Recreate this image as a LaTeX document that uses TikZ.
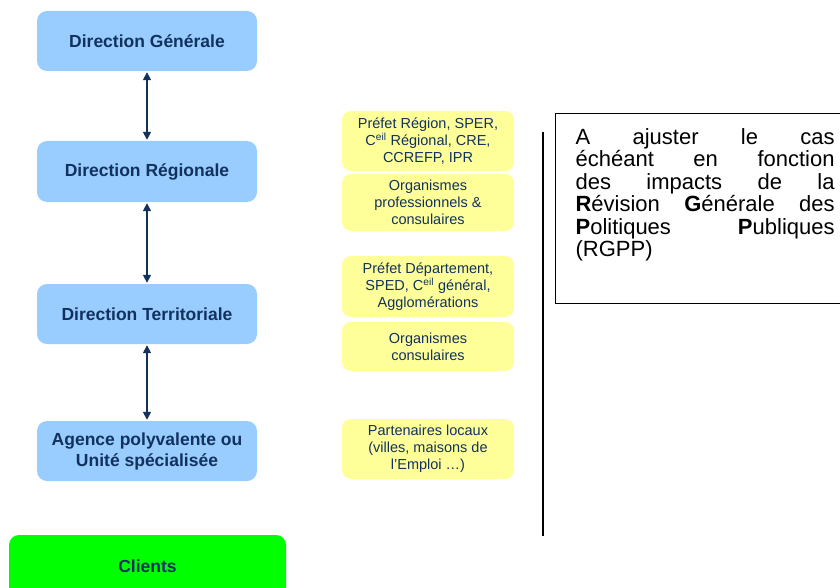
\documentclass[tikz,border=0pt]{standalone}
\usepackage{fontspec}
\setmainfont{Liberation Sans}
\usetikzlibrary{arrows.meta}
\definecolor{boxblue}{HTML}{99CCFF}
\definecolor{boxyellow}{HTML}{FFFF99}
\definecolor{boxgreen}{HTML}{00FF00}
\definecolor{navy}{HTML}{12325E}

\begin{document}
\begin{tikzpicture}[x=1pt,y=-1pt,
        dirbox/.style={fill=boxblue,rounded corners=10pt,minimum width=220pt,minimum height=60pt,
                inner sep=0pt,align=center,text=navy,font=\fontsize{17.5}{21}\selectfont\bfseries},
        partbox/.style={fill=boxyellow,rounded corners=9pt,minimum width=172pt,
                inner sep=0pt,align=center,text=navy,font=\fontsize{14.5}{17}\selectfont},
        link/.style={navy,line width=1.6pt,{Triangle[width=8pt,length=8pt]}-{Triangle[width=8pt,length=8pt]},shorten <=1pt,shorten >=1pt}] % hierarchy and partners
        \useasboundingbox (0,0) rectangle (840,588);
        \node[dirbox] (dg) at (147,41) {Direction Générale};
        \node[dirbox,minimum height=61pt] (dr) at (147,171.5) {Direction Régionale};
        \node[dirbox] (dt) at (147,314) {Direction Territoriale};
        \node[dirbox] (ag) at (147,451) {Agence polyvalente ou\\Unité spécialisée};
        \node[dirbox,fill=boxgreen,minimum width=277pt,minimum height=62pt] (cl) at (147.5,566) {Clients};
        \draw[link] (dg) -- (dr);
        \draw[link] (dr) -- (dt);
        \draw[link] (dt) -- (ag);
        \node[partbox,minimum height=60pt] (p1) at (428,141) {Préfet Région, SPER,\\C\textsuperscript{eil} Régional, CRE,\\CCREFP, IPR};
        \node[partbox,minimum height=57pt] (p2) at (428,202.5) {Organismes\\professionnels \&\\consulaires};
        \node[partbox,minimum height=61pt] (p3) at (428,286.5) {Préfet Département,\\SPED, C\textsuperscript{eil} général,\\Agglomérations};
        \node[partbox,minimum height=49pt] (p4) at (428,346.5) {Organismes\\consulaires};
        \node[partbox,minimum height=60pt] (p5) at (428,449) {Partenaires locaux\\(villes, maisons de\\l’Emploi …)};
        \coordinate (vtop) at (543,132);
        \coordinate (vbot) at (543,536);
        \draw[line width=1.2pt] (vtop) -- (vbot);
        \node[draw,line width=1.2pt,anchor=north west,text width=259pt,inner xsep=20pt,inner ysep=15pt,
                text height=16pt,text depth=144pt,align=justify,font=\fontsize{22}{22.4}\selectfont] (note) at (555,113)
                {A ajuster le cas\linebreak échéant en fonction\linebreak des impacts de la\linebreak
                \textbf{R}évision \textbf{G}énérale des\linebreak \textbf{P}olitiques \textbf{P}ubliques\linebreak (RGPP)};
\end{tikzpicture}
\end{document}
